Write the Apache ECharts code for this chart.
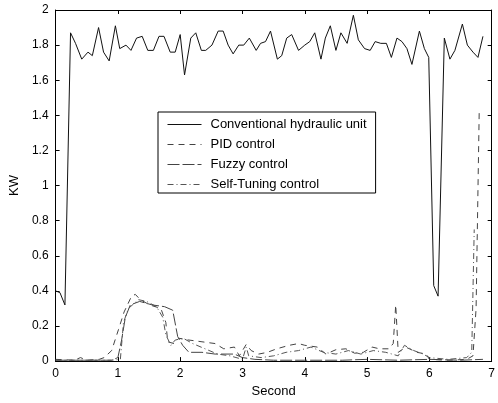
<!DOCTYPE html>
<html><head><meta charset="utf-8">
<script src="https://cdn.jsdelivr.net/npm/echarts@6/dist/echarts.min.js"></script>
<style>html,body{margin:0;padding:0;background:#fff}#c{width:498px;height:403px}</style>
</head><body><div id="c"></div>
<script>
const seriesNames = ['Conventional hydraulic unit','PID control','Fuzzy control','Self-Tuning control'];
const xTicks = [0,1,2,3,4,5,6,7];
const yTicks = [0,0.2,0.4,0.6,0.8,1,1.2,1.4,1.6,1.8,2];

const conventional = [[0,0.40],[0.07,0.39],[0.15,0.32],[0.24,1.87],[0.32,1.81],[0.42,1.72],[0.52,1.76],[0.59,1.74],[0.69,1.90],[0.77,1.76],[0.86,1.71],[0.96,1.91],[1.03,1.78],[1.13,1.80],[1.21,1.77],[1.30,1.84],[1.39,1.85],[1.48,1.77],[1.57,1.77],[1.66,1.85],[1.74,1.85],[1.84,1.76],[1.92,1.76],[2.00,1.86],[2.07,1.63],[2.17,1.84],[2.25,1.87],[2.34,1.77],[2.41,1.77],[2.51,1.80],[2.61,1.88],[2.69,1.88],[2.77,1.80],[2.85,1.75],[2.94,1.80],[3.02,1.80],[3.11,1.84],[3.22,1.77],[3.29,1.81],[3.37,1.82],[3.45,1.88],[3.56,1.72],[3.63,1.74],[3.71,1.84],[3.79,1.86],[3.90,1.77],[4.00,1.80],[4.08,1.82],[4.16,1.87],[4.26,1.72],[4.33,1.84],[4.41,1.91],[4.50,1.77],[4.58,1.87],[4.68,1.81],[4.78,1.97],[4.86,1.83],[4.96,1.78],[5.05,1.77],[5.13,1.82],[5.22,1.81],[5.31,1.81],[5.39,1.73],[5.48,1.84],[5.56,1.82],[5.64,1.78],[5.72,1.69],[5.84,1.88],[5.92,1.78],[5.99,1.73],[6.07,0.43],[6.14,0.37],[6.24,1.84],[6.33,1.72],[6.41,1.77],[6.53,1.92],[6.61,1.80],[6.70,1.76],[6.78,1.73],[6.86,1.85]];

const pid = [[0,0.01],[0.3,0.005],[0.4,0.02],[0.5,0.005],[0.7,0.01],[0.78,0.02],[0.9,0.06],[1.01,0.18],[1.1,0.28],[1.22,0.37],[1.28,0.38],[1.36,0.35],[1.51,0.32],[1.69,0.30],[1.77,0.22],[1.80,0.11],[1.9,0.10],[1.98,0.13],[2.14,0.12],[2.35,0.11],[2.56,0.10],[2.7,0.07],[2.87,0.08],[2.95,0.03],[3.06,0.095],[3.14,0.06],[3.26,0.04],[3.4,0.05],[3.55,0.07],[3.75,0.09],[3.9,0.10],[4.0,0.09],[4.2,0.08],[4.34,0.04],[4.5,0.065],[4.66,0.07],[4.8,0.045],[4.94,0.05],[5.08,0.08],[5.2,0.07],[5.35,0.07],[5.42,0.10],[5.46,0.32],[5.5,0.05],[5.62,0.08],[5.8,0.05],[5.95,0.04],[6.0,0.01],[6.3,0.005],[6.6,0.01],[6.7,0.03],[6.75,0.30],[6.8,1.42]];

const fuzzy = [[0,0.005],[0.9,0.005],[1.0,0.02],[1.06,0.12],[1.12,0.25],[1.2,0.32],[1.35,0.34],[1.55,0.32],[1.75,0.31],[1.88,0.29],[1.96,0.14],[2.04,0.09],[2.14,0.05],[2.35,0.05],[2.56,0.04],[2.87,0.04],[3.0,0.02],[3.2,0.01],[3.5,0.005],[4.0,0.005],[4.6,0.005],[5.0,0.01],[5.5,0.005],[6.0,0.01],[6.5,0.005],[6.86,0.01]];

const selfTuning = [[0,0.005],[0.5,0.005],[0.9,0.005],[1.04,0.01],[1.09,0.22],[1.17,0.30],[1.33,0.35],[1.46,0.34],[1.62,0.31],[1.72,0.25],[1.77,0.15],[1.85,0.09],[1.92,0.12],[2.05,0.13],[2.2,0.10],[2.4,0.07],[2.6,0.04],[2.8,0.03],[3.0,0.01],[3.06,0.08],[3.1,0.03],[3.3,0.02],[3.5,0.03],[3.7,0.05],[3.9,0.06],[4.1,0.08],[4.3,0.05],[4.5,0.04],[4.7,0.06],[4.9,0.04],[5.1,0.06],[5.3,0.05],[5.5,0.03],[5.6,0.09],[5.75,0.06],[5.9,0.04],[6.0,0.02],[6.3,0.01],[6.6,0.02],[6.68,0.05],[6.72,0.75]];

const chart = echarts.init(document.getElementById('c'), null, {renderer:'canvas'});
const fam = 'Liberation Sans, Arial, sans-serif';
const font = {fontFamily:fam, fontSize:12, color:'#000'};
const nameFont = {fontFamily:fam, fontSize:13, color:'#000'};
const baseX = {type:'value', min:0, max:7, interval:1, splitLine:{show:false},
  axisLine:{show:true, onZero:false, lineStyle:{color:'#000', width:1}},
  axisTick:{show:true, inside:true, length:4, lineStyle:{color:'#000'}}};
const baseY = {type:'value', min:0, max:2, interval:0.2, splitLine:{show:false},
  axisLine:{show:true, onZero:false, lineStyle:{color:'#000', width:1}},
  axisTick:{show:true, inside:true, length:4, lineStyle:{color:'#000'}}};

const styles = [
  {color:'#111', type:'solid'},
  {color:'#444', type:[6,5]},
  {color:'#444', type:[12,3]},
  {color:'#555', type:[6,3,1,3]}
];
const datasets = [conventional, pid, fuzzy, selfTuning];

chart.setOption({
  animation:false,
  backgroundColor:'#fff',
  grid:{left:50, right:2, top:10, bottom:38},
  legend:{
    orient:'vertical', left:158, top:112,
    padding:[6,9,2,9], itemGap:7, itemWidth:34, itemHeight:14,
    backgroundColor:'#fff', borderColor:'#000', borderWidth:1, borderRadius:0,
    itemStyle:{opacity:0},
    lineStyle:{width:1},
    textStyle:{fontFamily:fam, fontSize:13, color:'#000', padding:[0,0,0,4]},
    data:seriesNames
  },
  xAxis:[
    Object.assign({}, baseX, {position:'bottom', name:'Second', nameLocation:'middle', nameGap:21,
      nameTextStyle:nameFont, axisLabel:Object.assign({margin:7, formatter:v=>String(v)}, font)}),
    Object.assign({}, baseX, {position:'top', axisLabel:{show:false}})
  ],
  yAxis:[
    Object.assign({}, baseY, {position:'left', name:'KW', nameLocation:'middle', nameGap:33, nameRotate:90,
      nameTextStyle:nameFont, axisLabel:Object.assign({margin:7, formatter:v=>String(+v.toFixed(1))}, font)}),
    Object.assign({}, baseY, {position:'right', axisLabel:{show:false}})
  ],
  series: datasets.map((d,i)=>({
    name:seriesNames[i], type:'line', data:d, showSymbol:false, symbol:'none',
    lineStyle:{width:1, color:styles[i].color, type:styles[i].type},
    itemStyle:{color:styles[i].color},
    z: i===0 ? 3 : 2
  }))
});
</script></body></html>
